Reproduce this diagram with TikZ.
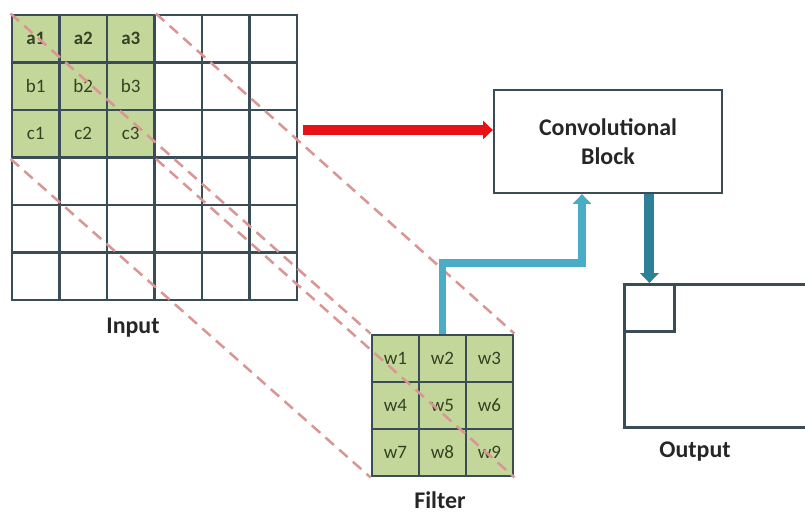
\documentclass[tikz,border=0pt]{standalone}
\usepackage{fontspec}
\setmainfont{Carlito}
\usetikzlibrary{arrows.meta,positioning}
\definecolor{cellgreen}{RGB}{196,215,155}
\definecolor{gridgray}{RGB}{58,76,86}
\definecolor{celltext}{RGB}{52,66,34}
\definecolor{dashred}{RGB}{218,150,148}
\definecolor{arrowred}{RGB}{232,18,22}
\definecolor{filterblue}{RGB}{75,172,198}
\definecolor{outteal}{RGB}{46,128,150}

\begin{document}
\begin{tikzpicture}[x=0.025cm,y=-0.025cm,
  incell/.style={draw=gridgray,line width=2pt,minimum size=1.1875cm,
        inner sep=0pt,font=\fontsize{13.5}{15}\selectfont,text=celltext},
  fcell/.style={incell,fill=cellgreen,minimum size=1.175cm},
  caption/.style={font=\fontsize{17}{20}\selectfont\bfseries,text=black!85},
  guide/.style={dashred,line width=1.8pt,dash pattern=on 8pt off 5pt},
  fatarrow/.style={line width=#1,-{Triangle[length=7pt,width=13pt]}}]
  \useasboundingbox (0,0) rectangle (805,517);
  \clip (0,0) rectangle (805,517);

  %% Input grid (6x6), top-left 3x3 window shaded
  \foreach \r in {1,...,6}
    \foreach \c in {1,...,6}
      \node[incell] (in-\r-\c) at ({12+47.5*(\c-0.5)},{15+47.5*(\r-0.5)}) {};
  \foreach \r/\l in {1/a,2/b,3/c}
    \foreach \c in {1,2,3}
      \node[incell,fill=cellgreen] at (in-\r-\c) {\ifnum\r=1\bfseries\fi\l\c};
  \node[caption] (inlabel) at (133,328) {Input};

  %% Filter (3x3 weights)
  \foreach \r/\k in {1/0,2/3,3/6}
    \foreach \c in {1,2,3}
      \node[fcell] (f-\r-\c) at ({372+47*(\c-0.5)},{335+47*(\r-0.5)})
        {w\the\numexpr\k+\c\relax};
  \node[caption] (flabel) at (440,500) {Filter};

  %% Convolutional block
  \node[draw=gridgray,line width=1.6pt,minimum width=5.7cm,minimum height=2.575cm,
        font=\fontsize{17}{21}\selectfont\bfseries,text=black!85,align=center]
        (conv) at (608,141.5) {Convolutional\\Block};

  %% Output map, cut by the right margin
  \node[draw=gridgray,line width=2pt,minimum width=5.5cm,minimum height=3.575cm,
        anchor=north west,inner sep=0pt] (out) at (623,283) {};
  \node[draw=gridgray,line width=2pt,minimum width=1.25cm,minimum height=1.175cm,
        anchor=north west,inner sep=0pt] (outcell) at (out.north west) {};
  \node[caption] (olabel) at (695,452) {Output};

  %% Window-to-filter guides
  \draw[guide] (in-1-1.north west) -- (f-1-1.north west);
  \draw[guide] (in-1-3.north east) -- (f-1-3.north east);
  \draw[guide] (in-3-1.south west) -- (f-3-1.south west);
  \draw[guide] (in-3-3.south east) -- (f-3-3.south east);

  %% Arrows
  \coordinate (inarrow) at (303,130);
  \draw[fatarrow=7pt,arrowred] (inarrow) -- (inarrow -| conv.west);
  \coordinate (bend) at (582,263);
  \draw[fatarrow=5.5pt,filterblue] (f-1-2.north) |- (bend) -- (bend |- conv.south);
  \draw[fatarrow=7pt,outteal] (conv.south -| outcell.north) -- (outcell.north);
\end{tikzpicture}
\end{document}
